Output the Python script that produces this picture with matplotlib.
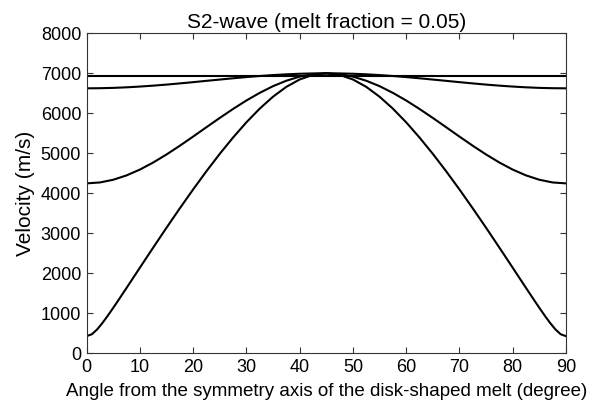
import numpy as np
import matplotlib
matplotlib.use("Agg")
import matplotlib.pyplot as plt

plt.rcParams['font.family'] = ['Liberation Sans', 'DejaVu Sans']

# angle from symmetry axis (degree), read every 2.5 deg
angle = np.arange(0, 90.1, 2.5)
# the lowest curve bends sharply near the ends, so it is read more densely there
angle_c = [0, 1, 2, 3, 4, 5, 6, 7.5, 10, 12.5, 15, 17.5, 20, 22.5, 25, 27.5, 30, 32.5,
           35, 37.5, 40, 42.5, 45, 47.5, 50, 52.5, 55, 57.5, 60, 62.5, 65, 67.5, 70,
           72.5, 75, 77.5, 80, 82.5, 84, 85, 86, 87, 88, 89, 90]

# S2 velocities (m/s) for the four melt geometries
v_flat = [6930] * len(angle)
v_a = [6625, 6628, 6636, 6650, 6669, 6692, 6718, 6748, 6779, 6812, 6844, 6876, 6906,
       6933, 6956, 6975, 6989, 6997, 7000, 6997, 6989, 6975, 6956, 6933, 6906, 6876,
       6844, 6812, 6779, 6748, 6718, 6692, 6669, 6650, 6636, 6628, 6625]
v_b = [4250, 4273, 4341, 4450, 4595, 4772, 4973, 5191, 5420, 5654, 5886, 6110, 6321,
       6512, 6679, 6815, 6917, 6979, 7000, 6979, 6917, 6815, 6679, 6512, 6321, 6110,
       5886, 5654, 5420, 5191, 4973, 4772, 4595, 4450, 4341, 4273, 4250]
v_c = [433, 482, 606, 769, 951, 1143, 1340, 1640, 2145, 2647, 3143, 3628, 4100, 4555,
       4989, 5397, 5776, 6118, 6416, 6662, 6846, 6961, 7000, 6961, 6846, 6662, 6416,
       6118, 5776, 5397, 4989, 4555, 4100, 3628, 3143, 2647, 2145, 1640, 1340, 1143,
       951, 769, 606, 482, 433]

xticks = np.arange(0, 91, 10)
yticks = np.arange(0, 8001, 1000)

fig = plt.figure(figsize=(6.02, 4.11), dpi=100)
ax = fig.add_axes([0.144, 0.140, 0.796, 0.779])

ax.plot(angle, v_flat, color='black', lw=1.5)
ax.plot(angle, v_a, color='black', lw=1.5)
ax.plot(angle, v_b, color='black', lw=1.5)
ax.plot(angle_c, v_c, color='black', lw=1.5)

ax.set_xlim(0, 90)
ax.set_ylim(0, 8000)
ax.set_xticks(xticks)
ax.set_yticks(yticks)
ax.tick_params(direction='in', top=True, right=True, length=4, width=0.8,
               labelsize=13, color='#333333', pad=4)
for s in ax.spines.values():
    s.set_color('#333333')
    s.set_linewidth(0.8)

ax.set_title('S2-wave (melt fraction = 0.05)', fontsize=15, pad=4)
ax.set_xlabel('Angle from the symmetry axis of the disk-shaped melt (degree)', fontsize=13.5, labelpad=5)
ax.set_ylabel('Velocity (m/s)', fontsize=15, labelpad=4)

fig.savefig('out.png', dpi=100)
